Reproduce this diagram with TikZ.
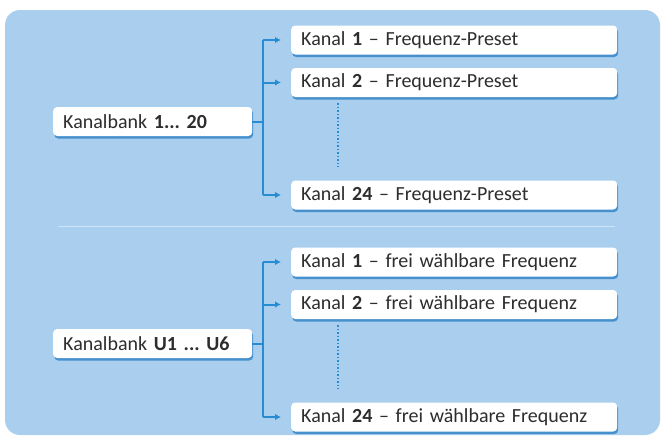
\documentclass[tikz,border=0pt]{standalone}
\usepackage{fontspec}
\setmainfont{Carlito}
\usepackage{tikz}
\usetikzlibrary{arrows.meta}
\usetikzlibrary{shadows}

\definecolor{bgblue}{RGB}{170,206,238}
\definecolor{lineblue}{RGB}{40,140,210}
\definecolor{shadowblue}{RGB}{70,145,205}
\definecolor{divider}{RGB}{205,228,246}
\definecolor{textgray}{RGB}{45,45,45}
\frenchspacing

\begin{document}
\begin{tikzpicture}[x=1pt, y=-1pt,
   kanalbox/.style={fill=white, rounded corners=4pt, anchor=west, minimum height=29pt,
                    text width=306pt, inner xsep=10pt, align=left, text=textgray,
                    font=\fontsize{20}{22}\selectfont,
                    drop shadow={shadow xshift=1pt, shadow yshift=-2.5pt, fill=shadowblue, opacity=1}},
   bankbox/.style={kanalbox, text width=179pt},
   bracket/.style={lineblue, line width=2pt},
   pfeil/.style={bracket, -{Latex[length=6pt, width=6.5pt]}},
   punkte/.style={lineblue, line width=1.5pt, dotted}]
   % hintergrund
   \useasboundingbox (0,0) rectangle (665,437);
   \fill [bgblue, rounded corners=15pt] (5,10) rectangle (660,435);
   \draw [divider, line width=0.8pt] (58,226) -- (615,226);

   % kanalbank 1 ... 20
   \node [bankbox]  (kb1)  at (53,121.5) {Kanalbank \textbf{1... 20}};
   \node [kanalbox] (k11)  at (291,40)    {Kanal \textbf{1} -- Frequenz-Preset};
   \node [kanalbox] (k12)  at (291,82.5)  {Kanal \textbf{2} -- Frequenz-Preset};
   \node [kanalbox] (k124) at (291,195)   {Kanal \textbf{24} -- Frequenz-Preset};

   \draw [bracket] (kb1.east) -- ++(11,0) coordinate (j1);
   \draw [bracket] (j1 |- k11.west) -- (j1 |- k124.west);
   \draw [pfeil]   (j1 |- k11.west)  -- ([xshift=-10pt]k11.west);
   \draw [pfeil]   (j1 |- k12.west)  -- ([xshift=-10pt]k12.west);
   \draw [pfeil]   (j1 |- k124.west) -- ([xshift=-10pt]k124.west);
   \draw [punkte]  ([xshift=47pt, yshift=-6pt]k12.south west) -- ([xshift=47pt, yshift=14pt]k124.north west);

   % kanalbank U1 ... U6
   \node [bankbox]  (kb2)  at (53,343.5) {Kanalbank \textbf{U1 ... U6}};
   \node [kanalbox] (k21)  at (291,262)   {Kanal \textbf{1} -- frei wählbare Frequenz};
   \node [kanalbox] (k22)  at (291,304.5) {Kanal \textbf{2} -- frei wählbare Frequenz};
   \node [kanalbox] (k224) at (291,417)   {Kanal \textbf{24} -- frei wählbare Frequenz};

   \draw [bracket] (kb2.east) -- ++(11,0) coordinate (j2);
   \draw [bracket] (j2 |- k21.west) -- (j2 |- k224.west);
   \draw [pfeil]   (j2 |- k21.west)  -- ([xshift=-10pt]k21.west);
   \draw [pfeil]   (j2 |- k22.west)  -- ([xshift=-10pt]k22.west);
   \draw [pfeil]   (j2 |- k224.west) -- ([xshift=-10pt]k224.west);
   \draw [punkte]  ([xshift=47pt, yshift=-6pt]k22.south west) -- ([xshift=47pt, yshift=14pt]k224.north west);
\end{tikzpicture}
\end{document}
